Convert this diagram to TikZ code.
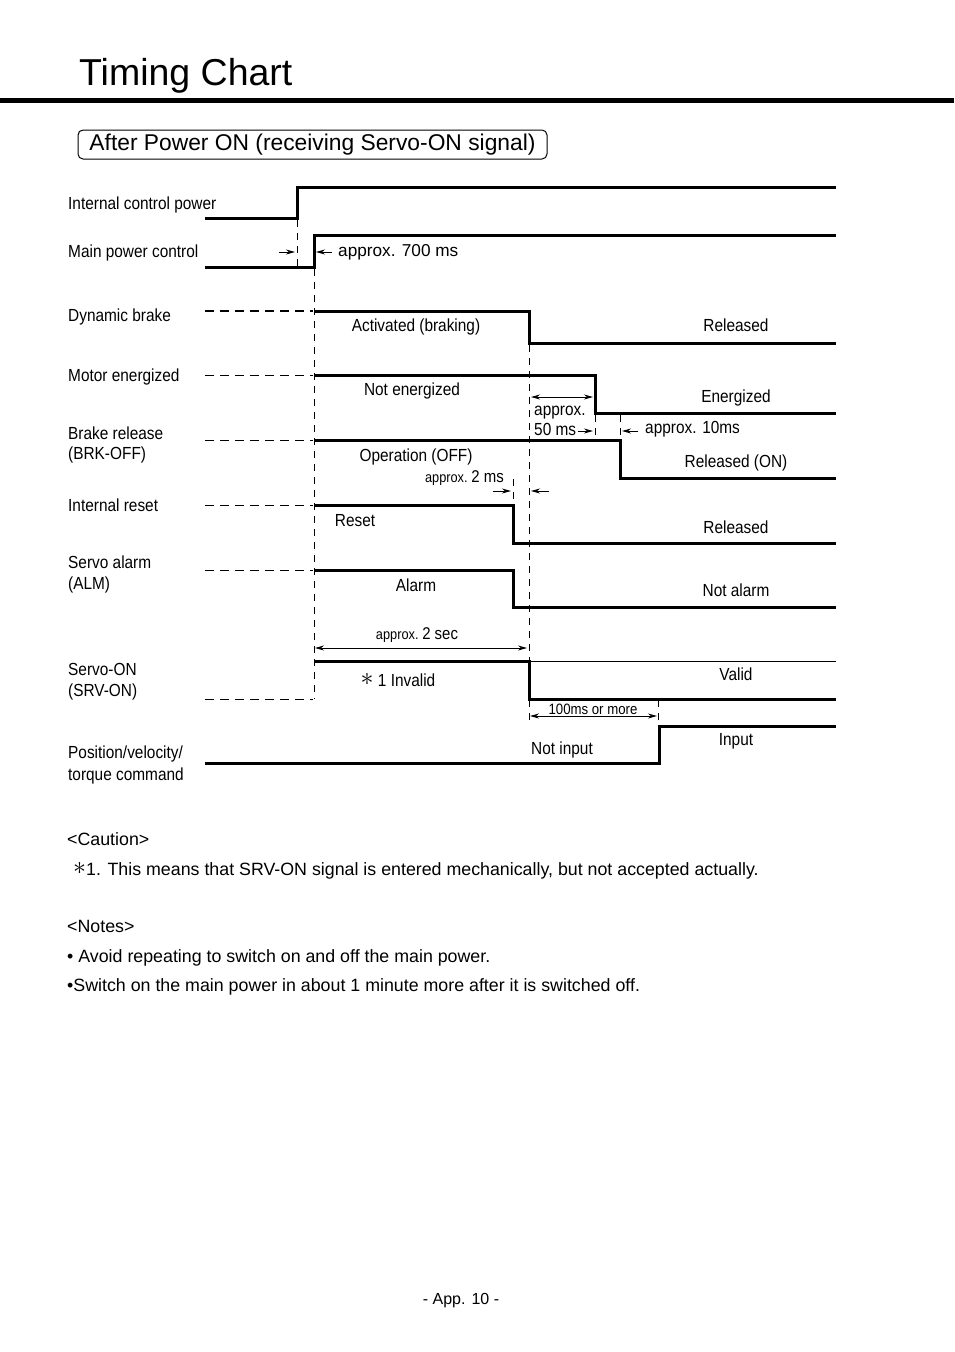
\documentclass[tikz,border=0pt]{standalone}
\usepackage{fontspec}
\setmainfont{Liberation Sans}
\newfontfamily\nar[FakeStretch=0.88]{Liberation Sans}
\usetikzlibrary{arrows.meta}
\newcommand{\bigast}{\raisebox{0.5pt}{\scalebox{1.5}{$\ast$}}}
\begin{document}
\begin{tikzpicture}[x=1pt,y=-1pt,
  sig/.style={line width=3pt,line join=miter},
  thinsig/.style={line width=1pt},
  lbl/.style={anchor=base west,inner sep=0pt,font=\nar\fontsize{17.5}{20}\selectfont},
  cl/.style={anchor=base,inner sep=0pt,font=\nar\fontsize{17.5}{20}\selectfont},
  txt/.style={anchor=base west,inner sep=0pt,font=\fontsize{17.8}{20}\selectfont},
  ntxt/.style={anchor=base west,inner sep=0pt,font=\nar\fontsize{17.5}{20}\selectfont},
  vdash/.style={line width=1pt,dash pattern=on 7pt off 6pt},
  hdash/.style={line width=1pt,dash pattern=on 9pt off 6pt},
  hdashb/.style={line width=2pt,dash pattern=on 9pt off 6pt},
  dim/.style={line width=0.9pt,-{Stealth[length=9pt,width=5pt]}},
  ddim/.style={line width=0.9pt,{Stealth[length=9pt,width=5pt]}-{Stealth[length=9pt,width=5pt]}}
]
\useasboundingbox[fill=white] (0,0) rectangle (954,1352);

% title
\node[anchor=base west,inner sep=0pt,font=\fontsize{37.5}{40}\selectfont] (title) at (79,85) {Timing Chart};
\draw[line width=5pt] (0,100) -- (954,100);
\node[draw,rounded corners=5pt,line width=1pt,minimum width=469pt,minimum height=29pt,inner sep=0pt,font=\fontsize{22.8}{24}\selectfont] (sub) at (312.5,144.5) {After Power ON (receiving Servo-ON signal)};

% left labels
\node[lbl] (l1) at (68,209) {Internal control power};
\node[lbl] (l2) at (68,257) {Main power control};
\node[lbl] (l3) at (68,321) {Dynamic brake};
\node[lbl] (l4) at (68,381) {Motor energized};
\node[lbl] (l5a) at (68,439) {Brake release};
\node[lbl] (l5b) at (68,459) {(BRK-OFF)};
\node[lbl] (l6) at (68,511) {Internal reset};
\node[lbl] (l7a) at (68,568) {Servo alarm};
\node[lbl] (l7b) at (68,589) {(ALM)};
\node[lbl] (l8a) at (68,675) {Servo-ON};
\node[lbl] (l8b) at (68,696) {(SRV-ON)};
\node[lbl] (l9a) at (68,758) {Position/velocity/};
\node[lbl] (l9b) at (68,780) {torque command};

% signals
\draw[sig] (205,218) -- (297,218) -- (297,187) -- (836,187);
\draw[sig] (205,267) -- (314,267) -- (314,235) -- (836,235);
\draw[sig] (314,311) -- (529,311) -- (529,343) -- (836,343);
\draw[sig] (314,375) -- (595,375) -- (595,413) -- (836,413);
\draw[sig] (314,440) -- (620,440) -- (620,478) -- (836,478);
\draw[sig] (314,505) -- (513,505) -- (513,543) -- (836,543);
\draw[sig] (314,570) -- (513,570) -- (513,607) -- (836,607);
\draw[sig] (314,661) -- (529,661) -- (529,699) -- (836,699);
\draw[thinsig] (529,661) -- (836,661);
\draw[sig] (205,763) -- (659,763) -- (659,726) -- (836,726);

% left dashed parts
\draw[hdashb] (205,311) -- (313,311);
\draw[hdash] (205,375) -- (313,375);
\draw[hdash] (205,440) -- (313,440);
\draw[hdash] (205,505) -- (313,505);
\draw[hdash] (205,570) -- (313,570);
\draw[hdash] (205,699) -- (313,699);

% vertical dashed guides
\draw[vdash] (297,220) -- (297,268);
\draw[vdash] (314,269) -- (314,699);
\draw[vdash] (529,345) -- (529,660);
\draw[vdash] (595,415) -- (595,437);
\draw[vdash] (620,415) -- (620,437);
\draw[vdash] (513,479) -- (513,500);
\draw[vdash] (529,700) -- (529,720);
\draw[vdash] (658,700) -- (658,720);

% dimension arrows
\draw[dim] (279,252) -- (295,252);
\draw[dim] (332,252) -- (316,252);
\node[txt,font=\fontsize{17.2}{20}\selectfont] (t700) at (338,256) {approx. 700 ms};

\draw[ddim] (531,397) -- (593,397);
\node[ntxt] (t50a) at (534,415) {approx.};
\node[ntxt] (t50b) at (534,435) {50 ms};
\draw[dim] (578,431) -- (593,431);
\draw[dim] (638,431) -- (622,431);
\node[ntxt] (t10) at (645,433) {approx. 10ms};

\node[anchor=base east,inner sep=0pt] (t2ms) at (504,482) {{\nar\fontsize{14.5}{16}\selectfont approx.} {\nar\fontsize{17}{18}\selectfont 2 ms}};
\draw[dim] (493,491) -- (511,491);
\draw[dim] (549,491) -- (531,491);

\draw[ddim] (315,648) -- (527,648);
\node[anchor=base,inner sep=0pt] (t2s) at (417,639) {{\nar\fontsize{14.5}{16}\selectfont approx.} {\nar\fontsize{17}{18}\selectfont 2 sec}};

\draw[ddim] (530,716) -- (657,716);
\node[anchor=base,inner sep=0pt,font=\nar\fontsize{15}{17}\selectfont] (t100) at (593,714) {100ms or more};

% state labels
\node[cl] (s3a) at (416,331) {Activated (braking)};
\node[cl] (s3b) at (736,331) {Released};
\node[cl] (s4a) at (412,395) {Not energized};
\node[cl] (s4b) at (736,402) {Energized};
\node[cl] (s5a) at (416,461) {Operation (OFF)};
\node[cl] (s5b) at (736,467) {Released (ON)};
\node[cl] (s6a) at (355,526) {Reset};
\node[cl] (s6b) at (736,533) {Released};
\node[cl] (s7a) at (416,591) {Alarm};
\node[cl] (s7b) at (736,596) {Not alarm};
\node[cl] (s8a) at (398,686) {\bigast\ 1 Invalid};
\node[cl] (s8b) at (736,680) {Valid};
\node[cl] (s9a) at (562,754) {Not input};
\node[cl] (s9b) at (736,745) {Input};

% notes
\node[txt] (c1) at (67,845) {<Caution>};
\node[txt] (c2) at (73,875) {\bigast1. This means that SRV-ON signal is entered mechanically, but not accepted actually.};
\node[txt] (n1) at (67,932) {<Notes>};
\node[txt] (n2) at (67,962) {• Avoid repeating to switch on and off the main power.};
\node[txt] (n3) at (67,991) {•Switch on the main power in about 1 minute more after it is switched off.};

\node[anchor=base,inner sep=0pt,font=\fontsize{16}{18}\selectfont] (foot) at (461,1304) {- App. 10 -};
\end{tikzpicture}
\end{document}
